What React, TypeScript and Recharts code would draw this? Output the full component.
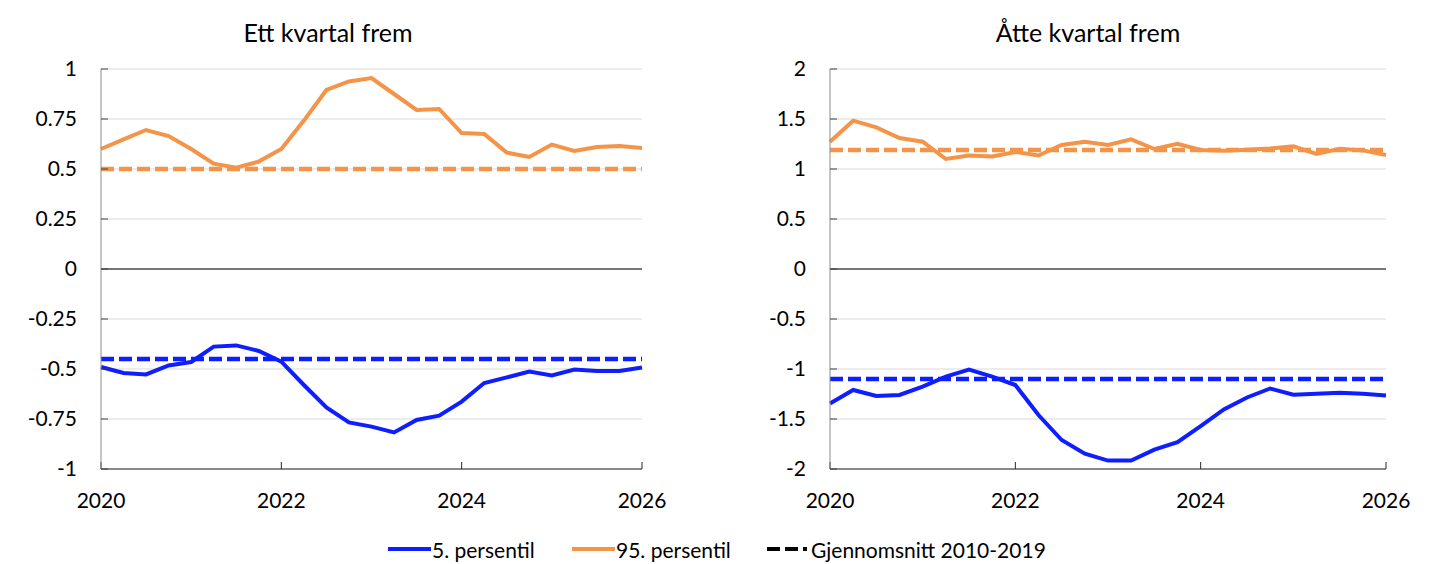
import { LineChart, Line, XAxis, YAxis, CartesianGrid, ReferenceLine } from "recharts";

const quarters = [
  "2020K1", "2020K2", "2020K3", "2020K4",
  "2021K1", "2021K2", "2021K3", "2021K4",
  "2022K1", "2022K2", "2022K3", "2022K4",
  "2023K1", "2023K2", "2023K3", "2023K4",
  "2024K1", "2024K2", "2024K3", "2024K4",
  "2025K1", "2025K2", "2025K3", "2025K4",
  "2026K1",
];
const xTicks = ["2020K1", "2022K1", "2024K1", "2026K1"];

// Ett kvartal frem
const p5Ett = [
  -0.49, -0.52, -0.527, -0.482, -0.465, -0.388, -0.382, -0.41, -0.463,
  -0.58, -0.692, -0.767, -0.788, -0.817, -0.755, -0.733, -0.663, -0.57,
  -0.542, -0.513, -0.532, -0.503, -0.51, -0.51, -0.493,
];
const p95Ett = [
  0.6, 0.648, 0.695, 0.665, 0.6, 0.527, 0.507, 0.537, 0.6,
  0.742, 0.895, 0.938, 0.955, 0.875, 0.795, 0.8, 0.68, 0.675,
  0.582, 0.56, 0.622, 0.59, 0.61, 0.615, 0.605,
];
const snittP5Ett = -0.45;
const snittP95Ett = 0.5;
const yTicksEtt = [-1, -0.75, -0.5, -0.25, 0, 0.25, 0.5, 0.75, 1];

// Åtte kvartal frem
const p5Atte = [
  -1.344, -1.21, -1.27, -1.26, -1.177, -1.077, -1.007, -1.077, -1.16,
  -1.46, -1.71, -1.846, -1.916, -1.916, -1.806, -1.732, -1.572, -1.405,
  -1.285, -1.195, -1.258, -1.248, -1.238, -1.248, -1.264,
];
const p95Atte = [
  1.273, 1.483, 1.416, 1.31, 1.273, 1.1, 1.135, 1.125, 1.17,
  1.135, 1.24, 1.273, 1.24, 1.296, 1.2, 1.253, 1.19, 1.183,
  1.193, 1.206, 1.226, 1.15, 1.203, 1.186, 1.14,
];
const snittP5Atte = -1.1;
const snittP95Atte = 1.19;
const yTicksAtte = [-2, -1.5, -1, -0.5, 0, 0.5, 1, 1.5, 2];

const BLUE = "#0f1eff";
const ORANGE = "#f39448";
const FONT = "Lato, 'Open Sans', sans-serif";

type PanelProps = {
  p5: number[];
  p95: number[];
  snittP5: number;
  snittP95: number;
  yTicks: number[];
  marginRight: number;
};

function Panel({ p5, p95, snittP5, snittP95, yTicks, marginRight }: PanelProps) {
  const data = quarters.map((q, i) => ({
    q,
    p5: p5[i],
    p95: p95[i],
    snittP5,
    snittP95,
  }));
  const tick = { fontSize: 21, fill: "#000", fontFamily: FONT };
  return (
    <LineChart
      width={700}
      height={514}
      data={data}
      margin={{ top: 69, right: marginRight, left: 0, bottom: 0 }}
    >
      <CartesianGrid vertical={false} stroke="#d9d9d9" strokeWidth={1} />
      <XAxis
        dataKey="q"
        ticks={xTicks}
        interval={0}
        tickFormatter={(q: string) => q.slice(0, 4)}
        tick={tick}
        height={45}
        tickSize={-7}
        tickMargin={31}
        axisLine={{ stroke: "#262626" }}
        tickLine={{ stroke: "#262626" }}
      />
      <YAxis
        type="number"
        domain={[yTicks[0], yTicks[yTicks.length - 1]]}
        ticks={yTicks}
        interval={0}
        tick={tick}
        width={101}
        tickSize={-7}
        tickMargin={31}
        axisLine={{ stroke: "#8c8c8c" }}
        tickLine={{ stroke: "#404040" }}
      />
      <ReferenceLine y={0} stroke="#000" strokeWidth={1} />
      <Line dataKey="p5" stroke={BLUE} strokeWidth={4} dot={false} isAnimationActive={false} />
      <Line dataKey="p95" stroke={ORANGE} strokeWidth={4} dot={false} isAnimationActive={false} />
      <Line dataKey="snittP5" stroke={BLUE} strokeWidth={4.5} strokeDasharray="13 5" dot={false} isAnimationActive={false} />
      <Line dataKey="snittP95" stroke={ORANGE} strokeWidth={4.5} strokeDasharray="13 5" dot={false} isAnimationActive={false} />
    </LineChart>
  );
}

function LegendItem({ left, color, dashed, label }: { left: number; color: string; dashed?: boolean; label: string }) {
  return (
    <div style={{ position: "absolute", left, top: 535, display: "flex", alignItems: "center", height: 28 }}>
      <svg width={43} height={10}>
        <line
          x1={0}
          y1={5}
          x2={43}
          y2={5}
          stroke={color}
          strokeWidth={4}
          strokeDasharray={dashed ? "13 5 13 5 4 10" : undefined}
        />
      </svg>
      <span style={{ fontSize: 21, fontFamily: FONT, color: "#000", marginLeft: 1 }}>{label}</span>
    </div>
  );
}

export default function App() {
  const title = { position: "absolute" as const, top: 17, fontSize: 25, fontFamily: FONT, color: "#000", textAlign: "center" as const };
  return (
    <div style={{ position: "absolute", left: 0, top: 0, width: 1445, height: 564, background: "#fff" }}>
      <div style={{ ...title, left: 28, width: 600 }}>Ett kvartal frem</div>
      <div style={{ ...title, left: 788, width: 600 }}>Åtte kvartal frem</div>
      <div style={{ position: "absolute", left: 0, top: 0 }}>
        <Panel p5={p5Ett} p95={p95Ett} snittP5={snittP5Ett} snittP95={snittP95Ett} yTicks={yTicksEtt} marginRight={58} />
      </div>
      <div style={{ position: "absolute", left: 729, top: 0 }}>
        <Panel p5={p5Atte} p95={p95Atte} snittP5={snittP5Atte} snittP95={snittP95Atte} yTicks={yTicksAtte} marginRight={43} />
      </div>
      <LegendItem left={388} color={BLUE} label="5. persentil" />
      <LegendItem left={572} color={ORANGE} label="95. persentil" />
      <LegendItem left={767} color="#000" dashed label="Gjennomsnitt 2010-2019" />
    </div>
  );
}
